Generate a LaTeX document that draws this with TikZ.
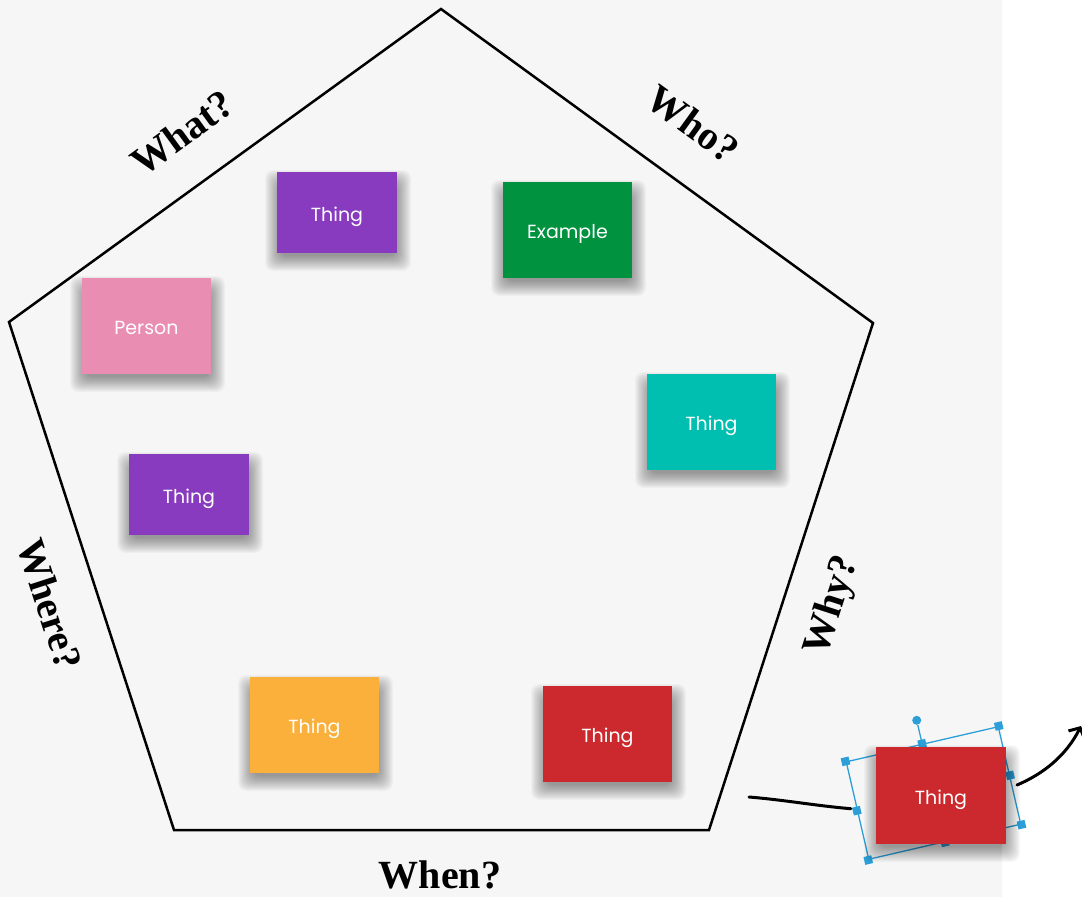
\documentclass[tikz,border=0pt]{standalone}
\usepackage{fontspec}
\setmainfont{Liberation Serif}
\newfontfamily\poppins{Poppins}
\usetikzlibrary{arrows.meta,calc}
\definecolor{bg}{HTML}{F6F6F6}
\definecolor{selblue}{HTML}{2C9FD8}
\definecolor{npurple}{HTML}{883BBE}
\definecolor{ngreen}{HTML}{00923F}
\definecolor{npink}{HTML}{EA8DB3}
\definecolor{nteal}{HTML}{00BFB1}
\definecolor{norange}{HTML}{FBB03B}
\definecolor{nred}{HTML}{CC292E}
% #1 name, #2 colour, #3 x, #4 y, #5 width, #6 height, #7 text
\newcommand\stickynote[7]{%
  \foreach \i in {0,...,15}{%
    \fill[black, opacity=0.026, rounded corners=8pt]
      ({#3-#5/2-12+\i},{#4-#6/2-2+\i}) rectangle ({#3+#5/2+14-\i},{#4+#6/2+18-\i});
  }%
  \node[note, fill=#2, minimum width=#5pt, minimum height=#6pt] (#1) at (#3,#4) {#7};
}
\begin{document}
\begin{tikzpicture}[x=1pt,y=-1pt,
  note/.style={rectangle, inner sep=0pt, text=white, font=\poppins\fontsize{19}{21}\selectfont,
    text height=17pt, text depth=0pt},
  lbl/.style={font=\bfseries\fontsize{40}{44}\selectfont, inner sep=0pt},
  handle/.style={rectangle, fill=selblue, minimum size=8pt, inner sep=0pt, rotate=13},
  stroke/.style={line width=3pt, line cap=round},
]
\useasboundingbox (0,0) rectangle (1082,897);
\fill[bg] (0,0) rectangle (1002,897);

% pentagon
\coordinate (pt) at (441,9);
\coordinate (pr) at (873,323);
\coordinate (pbr) at (709,830);
\coordinate (pbl) at (174,830);
\coordinate (pl) at (9,322);
\draw[line width=2.5pt, line join=miter] (pt) -- (pr) -- (pbr) -- (pbl) -- (pl) -- cycle;

% labels
\node[lbl, rotate=36] (what) at (182,133) {What?};
\node[lbl, rotate=-36] (who) at (693,124) {Who?};
\node[lbl, rotate=72] (why) at (833,606) {Why?};
\node[lbl, rotate=-72] (where) at (50,604) {Where?};
\node[lbl] (when) at (440,875) {When?};

% notes
\stickynote{n1}{npurple}{337}{212.5}{120}{81}{Thing}
\stickynote{n2}{ngreen}{567.5}{230}{129}{96}{Example}
\stickynote{n3}{npink}{146.5}{326}{129}{96}{Person}
\stickynote{n4}{nteal}{711.5}{422}{129}{96}{Thing}
\stickynote{n5}{npurple}{189}{494.5}{120}{81}{Thing}
\stickynote{n6}{norange}{314.5}{725}{129}{96}{Thing}
\stickynote{n7}{nred}{607.5}{734}{129}{96}{Thing}

% selection frame
\node[draw=selblue, line width=1.3pt, rectangle, minimum width=156pt, minimum height=100pt,
  inner sep=0pt, rotate=13] (sel) at (933.5,793) {};
\node[circle, fill=selblue, minimum size=9pt, inner sep=0pt] (rh) at ($(sel.north)!-24pt!(sel.center)$) {};
\draw[selblue, line width=1.3pt] (sel.north) -- (rh);
\foreach \a in {north west, north, north east, east, south east, south, south west, west}
  \node[handle] at (sel.\a) {};

% connectors
\coordinate (c1) at (749,797);
\coordinate (c1e) at ($(sel.west)+(-6,-2)$);
\draw[stroke] (c1) .. controls (785,800) and (818,806) .. (c1e);
\coordinate (c2s) at (1017,785);
\coordinate (c2e) at (1081,726);
\draw[stroke, -{Straight Barb[length=8pt,width=18pt]}] (c2s) .. controls (1043,774) and (1066,756) .. (c2e);

% selected note
\stickynote{n8}{nred}{941}{795.5}{130}{97}{Thing}
\end{tikzpicture}
\end{document}
